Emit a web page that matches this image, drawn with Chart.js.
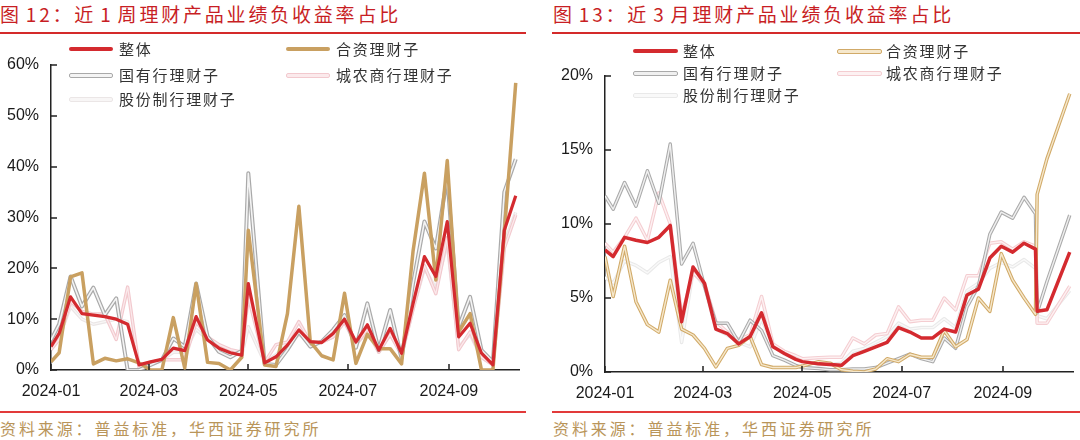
<!DOCTYPE html>
<html>
<head>
<meta charset="utf-8">
<script src="https://cdn.jsdelivr.net/npm/chart.js@4.4.1/dist/chart.umd.min.js"></script>
<style>
    body { margin: 0; width: 1080px; height: 440px; background: #fff; position: relative; overflow: hidden; font-family: "Noto Sans CJK SC", sans-serif; }
    .title { position: absolute; top: 4px; font-size: 19px; line-height: 19px; color: #c81e24; letter-spacing: 2.8px; word-spacing: -3px; white-space: nowrap; }
    .rule { position: absolute; height: 2px; background: #d42a2a; }
    .src { position: absolute; top: 420px; font-size: 16px; line-height: 16px; color: #b9955a; letter-spacing: 2.9px; white-space: nowrap; }
    .box { position: absolute; top: 40px; width: 528px; height: 370px; }
    .leg-line { position: absolute; box-sizing: border-box; border-radius: 2px; }
    .leg-text { position: absolute; font-size: 15px; line-height: 15px; color: #333; letter-spacing: 1.8px; white-space: nowrap; }
</style>
</head>
<body>
<div class="title" style="left:0">图 12：近 1 周理财产品业绩负收益率占比</div>
<div class="title" style="left:553px">图 13：近 3 月理财产品业绩负收益率占比</div>
<div class="rule" style="left:0;width:526px;top:32px"></div>
<div class="rule" style="left:552px;width:528px;top:32px"></div>

<div class="box" style="left:0"><canvas id="weekChart"></canvas></div>
<div class="box" style="left:552px"><canvas id="quarterChart"></canvas></div>
<div id="weekLegend"></div>
<div id="quarterLegend"></div>

<div class="rule" style="left:0;width:526px;top:411px;background:#e23a3a"></div>
<div class="rule" style="left:552px;width:528px;top:411px;background:#e23a3a"></div>
<div class="src" style="left:0">资料来源：普益标准，华西证券研究所</div>
<div class="src" style="left:553px">资料来源：普益标准，华西证券研究所</div>

<script>
const seriesNames = ['整体', '合资理财子', '国有行理财子', '城农商行理财子', '股份制行理财子'];
const tickDates = ['2024-01-01', '2024-03-01', '2024-05-01', '2024-07-01', '2024-09-01'];
const tickLabels = ['2024-01', '2024-03', '2024-05', '2024-07', '2024-09'];

// 近1周
const weekDates = ['2024-01-01', '2024-01-06', '2024-01-13', '2024-01-20', '2024-01-27', '2024-02-03', '2024-02-10',
    '2024-02-17', '2024-02-24', '2024-03-02', '2024-03-09', '2024-03-16', '2024-03-23', '2024-03-30', '2024-04-06',
    '2024-04-13', '2024-04-20', '2024-04-27', '2024-05-01', '2024-05-11', '2024-05-18', '2024-05-25', '2024-06-01',
    '2024-06-08', '2024-06-15', '2024-06-22', '2024-06-29', '2024-07-06', '2024-07-13', '2024-07-20', '2024-07-27',
    '2024-08-03', '2024-08-10', '2024-08-17', '2024-08-24', '2024-08-31', '2024-09-07', '2024-09-14', '2024-09-21',
    '2024-09-28', '2024-10-05', '2024-10-12'];
const weekOverall = [4.6, 7.2, 14.4, 11.1, 10.8, 10.5, 10.0, 9.0, 1.0, 1.6, 2.1, 4.3, 3.8, 10.5, 5.9, 4.3, 3.4, 2.9,
    17.0, 1.4, 2.6, 4.9, 7.9, 5.6, 5.4, 7.2, 10.0, 5.5, 8.9, 3.9, 8.2, 3.3, 13.0, 22.3, 18.4, 29.2, 6.5, 9.2, 3.3, 1.0, 27.5, 34.3];
const weekJointVenture = [1.6, 3.4, 18.3, 19.1, 1.2, 2.3, 1.8, 2.2, 1.4, 0, 0, 10.3, 0.4, 17.0, 1.5, 1.3, 0, 2.5,
    27.5, 1.0, 0.7, 11.1, 32.2, 5.6, 2.8, 2.0, 15.1, 1.3, 7.0, 4.2, 4.2, 1.2, 23.3, 38.7, 17.7, 41.2, 7.5, 11.1, 0, 0, 27.0, 56.5];
const weekStateOwned = [5.9, 9.0, 18.4, 12.5, 16.2, 10.8, 14.1, 0, 0, 1.0, 2.0, 6.2, 4.6, 17.0, 6.6, 3.6, 2.5, 3.8,
    38.7, 1.2, 1.0, 4.0, 7.5, 4.6, 5.6, 7.9, 10.8, 4.4, 13.1, 3.9, 11.8, 2.3, 17.0, 29.2, 23.9, 38.0, 8.5, 14.4, 3.9, 1.6, 35.0, 41.5];
const weekRural = [4.0, 6.0, 13.5, 11.5, 11.0, 11.0, 6.0, 16.3, 0.5, 1.5, 2.0, 2.0, 2.0, 9.5, 6.5, 5.0, 4.0, 3.5,
    14.5, 1.5, 5.0, 5.5, 9.5, 5.5, 5.5, 6.5, 9.5, 5.0, 8.0, 3.5, 7.0, 3.0, 12.0, 20.5, 15.0, 26.0, 4.0, 7.5, 2.5, 1.0, 24.0, 30.5];
const weekJointStock = [4.5, 6.5, 12.5, 10.0, 9.0, 9.5, 10.0, 9.5, 1.0, 1.5, 2.0, 3.5, 3.5, 8.0, 6.0, 4.5, 3.5, 3.0,
    8.5, 1.5, 3.0, 5.0, 7.0, 5.5, 5.5, 6.5, 9.5, 5.0, 7.5, 3.5, 7.0, 3.0, 12.0, 20.0, 16.0, 25.0, 4.5, 7.0, 2.5, 1.0, 25.0, 31.0];

// 近3月
const quarterDates = ['2024-01-01', '2024-01-06', '2024-01-13', '2024-01-20', '2024-01-27', '2024-02-03', '2024-02-10',
    '2024-02-17', '2024-02-24', '2024-03-02', '2024-03-09', '2024-03-16', '2024-03-23', '2024-03-30', '2024-04-06',
    '2024-04-13', '2024-04-20', '2024-04-27', '2024-05-01', '2024-05-11', '2024-05-18', '2024-05-25', '2024-06-01',
    '2024-06-08', '2024-06-15', '2024-06-22', '2024-06-29', '2024-07-06', '2024-07-13', '2024-07-20', '2024-07-27',
    '2024-08-03', '2024-08-10', '2024-08-17', '2024-08-24', '2024-08-31', '2024-09-07', '2024-09-14', '2024-09-21',
    '2024-09-22', '2024-09-28', '2024-10-12'];
const quarterOverall = [8.25, 7.8, 9.1, 8.9, 8.75, 9.1, 9.9, 3.4, 7.1, 6.0, 2.9, 2.6, 1.9, 2.4, 4.0, 1.7, 1.25, 0.85,
    0.7, 0.55, 0.5, 0.45, 1.1, 1.4, 1.7, 2.0, 3.0, 2.7, 2.3, 2.3, 2.9, 2.7, 5.2, 5.6, 7.7, 8.5, 8.1, 8.7, 8.3, 4.1, 4.2, 8.1];
const quarterJointVenture = [7.8, 5.1, 8.5, 4.75, 3.2, 2.7, 6.2, 2.9, 2.5, 1.6, 0.35, 1.6, 1.8, 2.4, 0.5, 0.3, 0.3, 0.3,
    0.4, 0.7, 0.6, 0.15, 0.05, 0, 0.2, 0.9, 0.7, 1.2, 1.0, 1.0, 2.8, 1.7, 2.2, 5.0, 4.1, 8.0, 6.2, 5.0, 3.9, 12.0, 14.4, 18.8];
const quarterStateOwned = [11.9, 11.0, 12.8, 11.2, 13.6, 11.4, 15.4, 7.3, 8.7, 5.8, 3.3, 3.3, 2.0, 3.5, 2.8, 1.1, 0.8, 0.45,
    0.3, 0.23, 0.15, 0.15, 0.2, 0.2, 0.3, 0.6, 0.9, 1.2, 0.9, 0.7, 2.3, 1.6, 4.4, 5.8, 9.3, 10.8, 10.4, 11.8, 10.7, 4.0, 6.1, 10.6];
const quarterRural = [8.7, 8.1, 9.1, 10.4, 8.9, 12.1, 10.0, 3.8, 6.7, 6.0, 3.4, 2.7, 2.2, 2.5, 5.1, 1.9, 1.4, 1.1,
    0.9, 0.97, 1.0, 1.0, 2.3, 1.9, 2.5, 2.6, 4.4, 3.4, 3.5, 3.5, 5.0, 4.2, 6.5, 6.5, 8.7, 8.8, 8.3, 8.8, 8.5, 3.3, 3.3, 5.8];
const quarterJointStock = [6.4, 6.0, 7.5, 7.2, 6.7, 7.4, 7.8, 2.0, 6.8, 5.8, 2.9, 2.5, 2.0, 1.7, 3.6, 1.8, 1.2, 0.9,
    0.8, 0.5, 0.5, 0.6, 1.4, 1.6, 2.0, 2.4, 3.3, 2.9, 3.0, 3.0, 3.6, 3.0, 5.5, 6.0, 7.0, 7.4, 7.1, 7.6, 7.0, 3.8, 3.6, 5.5];

Chart.defaults.font.family = '"Liberation Sans", Arial, sans-serif';
Chart.defaults.font.size = 16;
Chart.defaults.color = '#1a1a1a';

const dayOf = s => (Date.parse(s + 'T00:00:00Z') - Date.parse('2024-01-01T00:00:00Z')) / 86400000;

// short tick marks pointing into the plot, like the original
const innerTicks = {
    id: 'innerTicks',
    afterDraw(chart) {
        const { ctx, chartArea, scales } = chart;
        ctx.save();
        ctx.strokeStyle = '#222';
        ctx.lineWidth = 1.5;
        ctx.beginPath();
        scales.x.ticks.forEach((t, i) => {
            const px = Math.round(scales.x.getPixelForTick(i));
            ctx.moveTo(px, chartArea.bottom);
            ctx.lineTo(px, chartArea.bottom - 6);
        });
        scales.y.ticks.forEach((t, i) => {
            const py = Math.round(scales.y.getPixelForTick(i));
            ctx.moveTo(chartArea.left, py);
            ctx.lineTo(chartArea.left + 6, py);
        });
        ctx.stroke();
        ctx.restore();
    }
};

function makeDatasets(dates, valueLists, styles) {
    const xs = dates.map(dayOf);
    const sets = [];
    valueLists.forEach((vals, k) => {
        const s = styles[k];
        const pts = vals.map((v, i) => ({ x: xs[i], y: v }));
        sets.push({
            label: seriesNames[k], data: pts, borderColor: s.color, borderWidth: s.width,
            pointRadius: 0, tension: 0, borderJoinStyle: 'round', order: s.order + 0.5
        });
        if (s.inner) {
            // light core on top makes the hollow "double" line
            sets.push({
                label: seriesNames[k] + ' inner', data: pts, borderColor: s.inner, borderWidth: s.innerWidth,
                pointRadius: 0, tension: 0, borderJoinStyle: 'round', order: s.order
            });
        }
    });
    return sets;
}

function drawChart(id, dates, valueLists, styles, yMax, yStep, axisWidth, axisHeight, padding) {
    const ctx = document.getElementById(id).getContext('2d');
    const tickDays = tickDates.map(dayOf);
    return new Chart(ctx, {
        type: 'line',
        data: { datasets: makeDatasets(dates, valueLists, styles) },
        plugins: [innerTicks],
        options: {
            responsive: true,
            maintainAspectRatio: false,
            animation: false,
            layout: { padding: padding },
            plugins: { legend: { display: false }, tooltip: { enabled: false } },
            scales: {
                x: {
                    type: 'linear',
                    min: 0,
                    max: 287,
                    afterBuildTicks: scale => { scale.ticks = tickDays.map(v => ({ value: v })); },
                    afterFit: scale => { scale.height = axisHeight; },
                    ticks: { autoSkip: false, maxRotation: 0, padding: 12, callback: (v, i) => tickLabels[i] },
                    grid: { drawOnChartArea: false, drawTicks: false },
                    border: { color: '#222', width: 1.5 }
                },
                y: {
                    min: 0,
                    max: yMax,
                    afterFit: scale => { scale.width = axisWidth; },
                    ticks: { stepSize: yStep, padding: 12, callback: v => v + '%' },
                    grid: { drawOnChartArea: false, drawTicks: false },
                    border: { color: '#222', width: 1.5 }
                }
            }
        }
    });
}

function buildLegend(id, styles, cols, textX, rows, lineW) {
    const box = document.getElementById(id);
    const slots = [[0, 0], [1, 0], [0, 1], [1, 1], [0, 2]];
    styles.forEach((s, k) => {
        const [c, r] = slots[k];
        const line = document.createElement('div');
        line.className = 'leg-line';
        const h = s.inner ? 5 : 4;
        line.style.left = cols[c] + 'px';
        line.style.top = (rows[r] - h / 2) + 'px';
        line.style.width = lineW + 'px';
        line.style.height = h + 'px';
        if (s.inner) {
            line.style.background = s.inner;
            line.style.border = '1.4px solid ' + s.color;
        } else {
            line.style.background = s.color;
        }
        box.appendChild(line);
        const txt = document.createElement('div');
        txt.className = 'leg-text';
        txt.textContent = seriesNames[k];
        txt.style.left = textX[c] + 'px';
        txt.style.top = (rows[r] - 8) + 'px';
        box.appendChild(txt);
    });
}

const weekStyles = [
    { color: '#d42a2f', width: 3.2, order: 1 },
    { color: '#c9a061', width: 3.5, order: 2 },
    { color: '#a9a9a9', width: 4, inner: '#f4f4f4', innerWidth: 1.6, order: 3 },
    { color: '#f2c9ce', width: 3.5, inner: '#fbeaec', innerWidth: 1.2, order: 4 },
    { color: '#ebe6e6', width: 3.5, inner: '#f8f6f6', innerWidth: 1.2, order: 5 }
];
const quarterStyles = [
    { color: '#d42a2f', width: 3.5, order: 1 },
    { color: '#d1aa68', width: 3.5, inner: '#f6e8cc', innerWidth: 1.4, order: 2 },
    { color: '#aaaaaa', width: 3.5, inner: '#f0f0f0', innerWidth: 1.4, order: 3 },
    { color: '#f4cdd1', width: 3.5, inner: '#fdf1f2', innerWidth: 1.4, order: 4 },
    { color: '#e9e9e9', width: 3.5, inner: '#f9f9f9', innerWidth: 1.4, order: 5 }
];

drawChart('weekChart', weekDates,
    [weekOverall, weekJointVenture, weekStateOwned, weekRural, weekJointStock],
    weekStyles, 60, 10, 51, 40, { top: 25, right: 9, left: 0, bottom: 0 });
drawChart('quarterChart', quarterDates,
    [quarterOverall, quarterJointVenture, quarterStateOwned, quarterRural, quarterJointStock],
    quarterStyles, 20, 5, 53, 38, { top: 36, right: 7, left: 0, bottom: 0 });

buildLegend('weekLegend', weekStyles, [69, 286], [119, 336], [49, 75, 99], 44);
buildLegend('quarterLegend', quarterStyles, [633, 837], [683, 886], [51, 73, 95], 45);
</script>
</body>
</html>
